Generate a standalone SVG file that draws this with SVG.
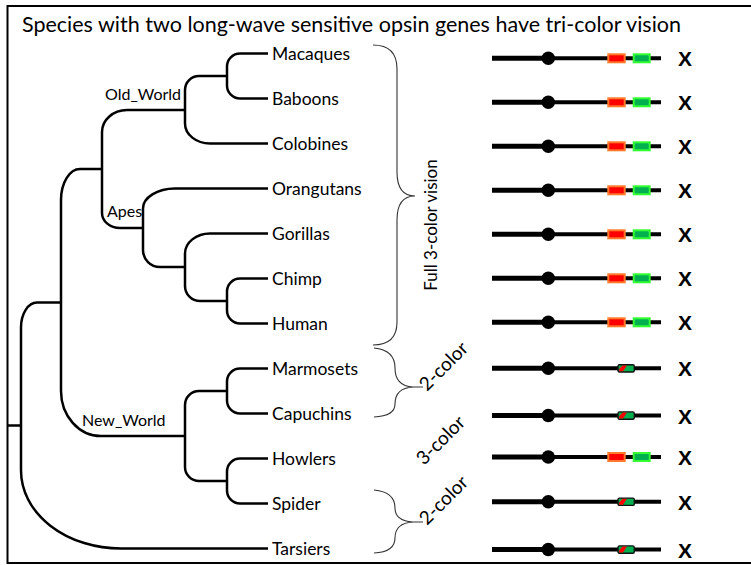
<svg xmlns="http://www.w3.org/2000/svg" xmlns:xlink="http://www.w3.org/1999/xlink" width="751" height="565" viewBox="0 0 751 565">
  <style>
    .label { font-family: Lato, "Open Sans", sans-serif; font-size: 17.5px; fill: #000; }
    .clade { font-family: Lato, "Open Sans", sans-serif; font-size: 16px; fill: #000; }
    .title { font-family: Lato, "Open Sans", sans-serif; font-size: 21.5px; fill: #000; }
    .note { font-family: Lato, "Open Sans", sans-serif; font-size: 17px; fill: #000; }
    .diag { font-family: Lato, "Open Sans", sans-serif; font-size: 19px; fill: #000; }
    .mark { font-family: "Liberation Sans", Arial, sans-serif; font-size: 21px; font-weight: bold; fill: #000; }
    .edge { fill: none; stroke: #000; stroke-width: 2.5; }
    .brace { fill: none; stroke: #333; stroke-width: 1.1; }
  </style>
  <defs>
    <!-- chromosome backbone with centromere -->
    <g id="chrom">
      <path d="M492,0 H548" stroke="#000" stroke-width="5"/>
      <path d="M548,0 H661" stroke="#000" stroke-width="4"/>
      <circle cx="548.3" cy="0" r="6.7" fill="#000"/>
    </g>
    <!-- separate red and green opsin genes -->
    <g id="genes-rg">
      <rect x="608.3" y="-4" width="16.4" height="8" fill="#FF0000" stroke="#FF7A2A" stroke-width="2"/>
      <rect x="633.7" y="-4" width="16" height="8" fill="#00B050" stroke="#33FF33" stroke-width="2"/>
    </g>
    <!-- single hybrid opsin gene -->
    <g id="gene-hybrid">
      <rect x="618" y="-3.6" width="16.3" height="7.3" rx="1.5" fill="#00B050" stroke="#111" stroke-width="1.4"/>
      <polygon points="619,3 619,1 622.5,-2.9 627,-2.9 623,3" fill="#FF0000"/>
    </g>
  </defs>

  <rect x="0" y="0" width="751" height="565" fill="#fff"/>
  <!-- frame (open on the right side) -->
  <rect x="7.5" y="6" width="780" height="557" fill="none" stroke="#000" stroke-width="2"/>

  <text class="title" x="22" y="32">Species with two long-wave sensitive opsin genes have tri-color vision</text>

  <!-- tree branches -->
  <g id="connectors" class="edge">
    <path d="M8,425.5 H21"/>
    <path d="M61,302.5 H37 A16,25 0 0 0 21,327.5 V470.5 A100,78 0 0 0 121,548.5 H268"/>
    <path d="M102,169 H80 A19,31 0 0 0 61,200 V391 A40,45 0 0 0 101,436 H185"/>
    <path d="M185,110 H127 A25,22 0 0 0 102,132 V213 A18,15 0 0 0 120,228 H143"/>
    <path d="M227,76 H199 A14,14 0 0 0 185,90 V123.5 A25,20 0 0 0 210,143.5 H268"/>
    <path d="M268,53.5 H240 A13,13 0 0 0 227,66.5 V85.5 A13,13 0 0 0 240,98.5 H268"/>
    <path d="M268,188.5 H175 A32,20 0 0 0 143,208.5 V250 A17,17 0 0 0 160,267 H185"/>
    <path d="M268,233.5 H210 A25,20 0 0 0 185,253.5 V286 A15,15 0 0 0 200,301 H227"/>
    <path d="M268,278.5 H240 A13,13 0 0 0 227,291.5 V310.5 A13,13 0 0 0 240,323.5 H268"/>
    <path d="M227,391 H199 A14,14 0 0 0 185,405 V467 A14,14 0 0 0 199,481 H227"/>
    <path d="M268,368.5 H240 A13,13 0 0 0 227,381.5 V400.5 A13,13 0 0 0 240,413.5 H268"/>
    <path d="M268,458.5 H240 A13,13 0 0 0 227,471.5 V490.5 A13,13 0 0 0 240,503.5 H268"/>
  </g>

  <!-- clade names -->
  <g id="old-world"><text class="clade" x="105" y="100">Old_World</text></g>
  <g id="apes"><text class="clade" x="107" y="217">Apes</text></g>
  <g id="new-world"><text class="clade" x="82" y="426">New_World</text></g>

  <!-- species: name, chromosome, X mark -->
  <g id="macaques">
    <text class="label" x="272" y="59.5">Macaques</text>
    <use xlink:href="#chrom" y="58.3"/><use xlink:href="#genes-rg" y="58.3"/>
    <text class="mark" x="678" y="66.3">X</text>
  </g>
  <g id="baboons">
    <text class="label" x="272" y="104.5">Baboons</text>
    <use xlink:href="#chrom" y="102.3"/><use xlink:href="#genes-rg" y="102.3"/>
    <text class="mark" x="678" y="110.3">X</text>
  </g>
  <g id="colobines">
    <text class="label" x="272" y="149.5">Colobines</text>
    <use xlink:href="#chrom" y="146.3"/><use xlink:href="#genes-rg" y="146.3"/>
    <text class="mark" x="678" y="154.3">X</text>
  </g>
  <g id="orangutans">
    <text class="label" x="272" y="194.5">Orangutans</text>
    <use xlink:href="#chrom" y="190.3"/><use xlink:href="#genes-rg" y="190.3"/>
    <text class="mark" x="678" y="198.3">X</text>
  </g>
  <g id="gorillas">
    <text class="label" x="272" y="239.5">Gorillas</text>
    <use xlink:href="#chrom" y="234.3"/><use xlink:href="#genes-rg" y="234.3"/>
    <text class="mark" x="678" y="242.3">X</text>
  </g>
  <g id="chimp">
    <text class="label" x="272" y="284.5">Chimp</text>
    <use xlink:href="#chrom" y="278.3"/><use xlink:href="#genes-rg" y="278.3"/>
    <text class="mark" x="678" y="286.3">X</text>
  </g>
  <g id="human">
    <text class="label" x="272" y="329.5">Human</text>
    <use xlink:href="#chrom" y="322.3"/><use xlink:href="#genes-rg" y="322.3"/>
    <text class="mark" x="678" y="330.3">X</text>
  </g>
  <g id="marmosets">
    <text class="label" x="272" y="374.5">Marmosets</text>
    <use xlink:href="#chrom" y="368.3"/><use xlink:href="#gene-hybrid" y="368.3"/>
    <text class="mark" x="678" y="376.3">X</text>
  </g>
  <g id="capuchins">
    <text class="label" x="272" y="419.5">Capuchins</text>
    <use xlink:href="#chrom" y="415.5"/><use xlink:href="#gene-hybrid" y="415.5"/>
    <text class="mark" x="678" y="423.5">X</text>
  </g>
  <g id="howlers">
    <text class="label" x="272" y="464.5">Howlers</text>
    <use xlink:href="#chrom" y="457"/><use xlink:href="#genes-rg" y="457"/>
    <text class="mark" x="678" y="465">X</text>
  </g>
  <g id="spider">
    <text class="label" x="272" y="509.5">Spider</text>
    <use xlink:href="#chrom" y="501.7"/><use xlink:href="#gene-hybrid" y="501.7"/>
    <text class="mark" x="678" y="509.7">X</text>
  </g>
  <g id="tarsiers">
    <text class="label" x="272" y="554.5">Tarsiers</text>
    <use xlink:href="#chrom" y="549.5"/><use xlink:href="#gene-hybrid" y="549.5"/>
    <text class="mark" x="678" y="557.5">X</text>
  </g>

  <!-- vision braces -->
  <g id="full-3-color">
    <path class="brace" d="M373,45 Q397,45 397,69 V172 Q397,196 415,196 Q397,196 397,220 V322 Q397,345 373,345"/>
    <text class="note" text-anchor="middle" transform="translate(437,225) rotate(-90)">Full 3-color vision</text>
  </g>
  <g id="two-color-a">
    <path class="brace" d="M374,348 Q395,350 395,368 Q395,386 413,387 H423 M413,387 Q395,388 395,404 Q395,416 374,417"/>
    <text class="diag" transform="translate(427,392) rotate(-45)">2-color</text>
  </g>
  <g id="three-color">
    <text class="diag" transform="translate(424,466) rotate(-45)">3-color</text>
  </g>
  <g id="two-color-b">
    <path class="brace" d="M374,490 Q395,492 395,508 Q395,521 413,522 H423 M413,522 Q395,523 395,538 Q395,552 374,553"/>
    <text class="diag" transform="translate(427,526) rotate(-45)">2-color</text>
  </g>
</svg>
